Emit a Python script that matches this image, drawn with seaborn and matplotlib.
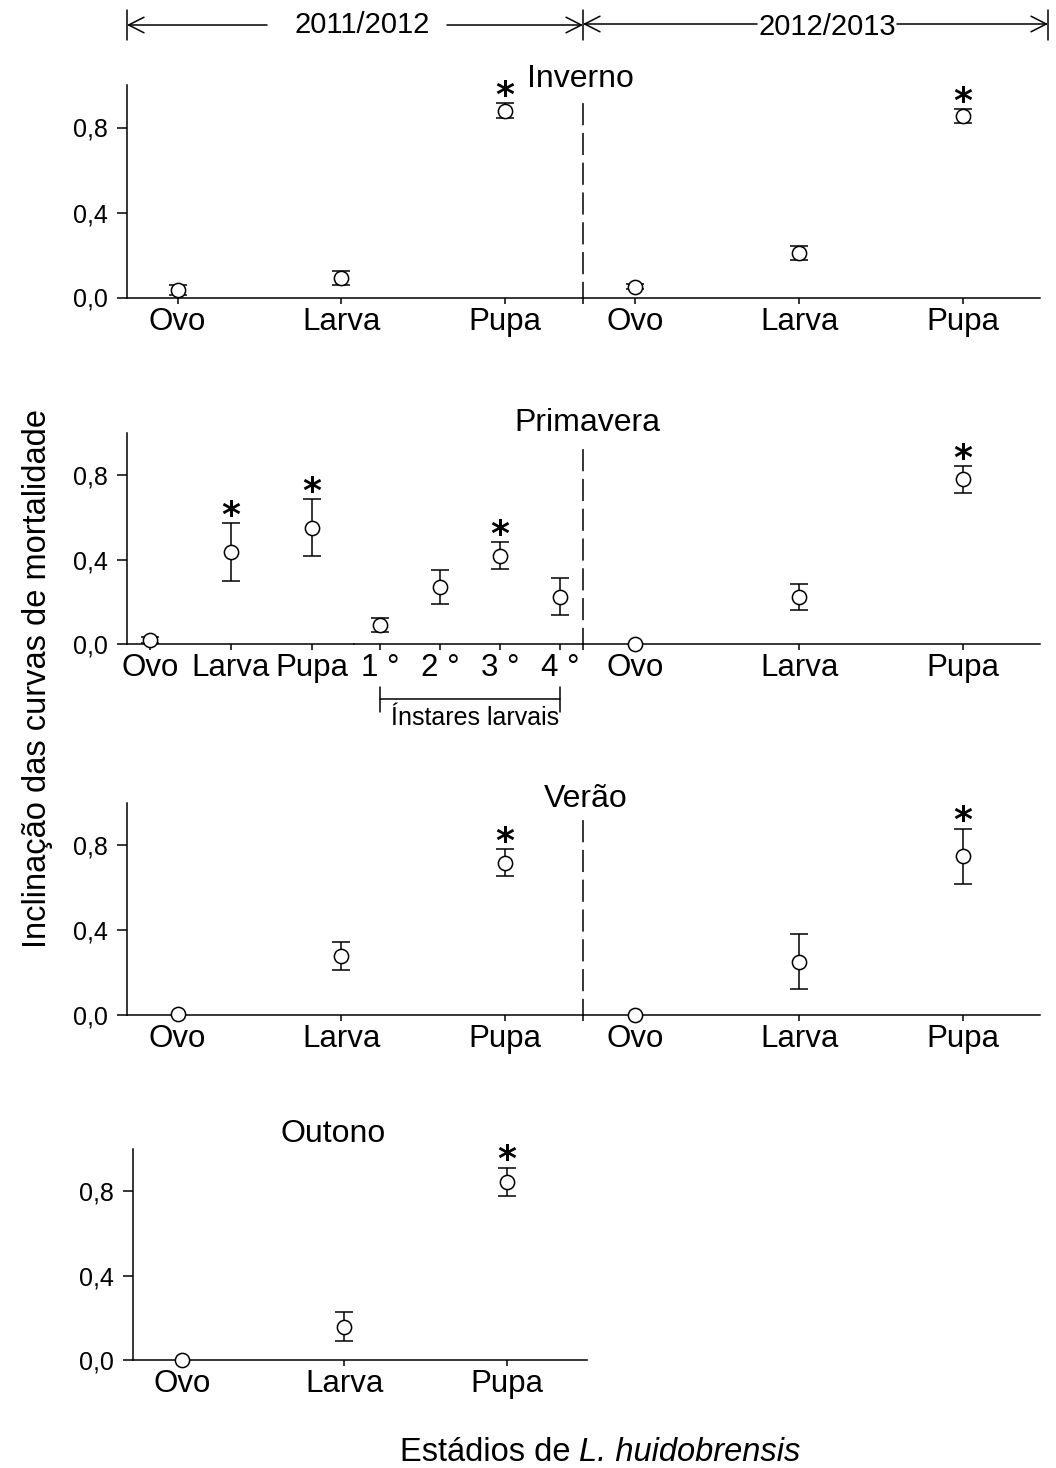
import numpy as np
import pandas as pd
import matplotlib
matplotlib.use("Agg")
import matplotlib.pyplot as plt
import matplotlib.transforms as mtransforms
from matplotlib.patches import FancyArrowPatch
from matplotlib.lines import Line2D
import seaborn as sns

# ---------------- data ----------------
stages = ["Ovo", "Larva", "Pupa"]
instars = ["1 °", "2 °", "3 °", "4 °"]
ytick_vals = [0.0, 0.4, 0.8]
ytick_labels = ["0,0", "0,4", "0,8"]
years = ["2011/2012", "2012/2013"]
seasons = ["Inverno", "Primavera", "Verão", "Outono"]
instar_caption = "Ínstares larvais"
ylabel = "Inclinação das curvas de mortalidade"
xlabel_plain = "Estádios de "
xlabel_italic = "L. huidobrensis"

inv_1112 = [0.035, 0.09, 0.88]
inv_1112_err = [0.022, 0.033, 0.036]
inv_1112_sig = [False, False, True]
inv_1213 = [0.05, 0.21, 0.855]
inv_1213_err = [0.012, 0.033, 0.032]
inv_1213_sig = [False, False, True]

pri_1112 = [0.02, 0.437, 0.55]
pri_1112_err = [0.013, 0.137, 0.135]
pri_1112_sig = [False, True, True]
pri_instar = [0.09, 0.27, 0.418, 0.224]
pri_instar_err = [0.031, 0.079, 0.064, 0.087]
pri_instar_sig = [False, False, True, False]
pri_1213 = [0.0, 0.222, 0.78]
pri_1213_err = [0.0, 0.063, 0.062]
pri_1213_sig = [False, False, True]

ver_1112 = [0.005, 0.278, 0.718]
ver_1112_err = [0.0, 0.065, 0.063]
ver_1112_sig = [False, False, True]
ver_1213 = [0.0, 0.251, 0.748]
ver_1213_err = [0.0, 0.13, 0.131]
ver_1213_sig = [False, False, True]

out_1112 = [0.0, 0.158, 0.844]
out_1112_err = [0.0, 0.068, 0.068]
out_1112_sig = [False, False, True]

# ---------------- style ----------------
sns.set_style("ticks")
plt.rcParams["font.family"] = ["Liberation Sans", "DejaVu Sans"]
for k in ["text.color", "axes.labelcolor", "xtick.color", "ytick.color", "axes.edgecolor"]:
    plt.rcParams[k] = "black"

W, H = 1056, 1468
LW = 1.1
CAT_FS = 22.5
fig = plt.figure(figsize=(W / 100, H / 100), dpi=100)
fig.patch.set_facecolor("white")


def fx(px):
    return px / W


def fy(py):
    return 1 - py / H


def make_ax(x0, x1, ytop, ybot):
    return fig.add_axes([fx(x0), fy(ybot), (x1 - x0) / W, (ybot - ytop) / H])


def panel(ax, cats, vals, errs, sig, xlim, yaxis=True):
    pos = np.arange(len(cats))
    vals = np.asarray(vals, dtype=float)
    errs = np.asarray(errs, dtype=float)
    m = errs > 0
    ax.errorbar(pos[m], vals[m], yerr=errs[m], fmt="none", ecolor="black",
                elinewidth=LW, capsize=6.8, capthick=LW, zorder=2, clip_on=False)
    df = pd.DataFrame({"pos": pos, "val": vals})
    sns.scatterplot(data=df, x="pos", y="val", ax=ax, marker="o", s=105,
                    color="white", edgecolor="black", linewidth=LW,
                    zorder=3, clip_on=False, legend=False)
    for p, v, e, s in zip(pos, vals, errs, sig):
        if s:
            ax.annotate("*", xy=(p, v + e), xytext=(0, -2), textcoords="offset points",
                        ha="center", va="baseline", fontsize=26, fontweight="bold",
                        family="DejaVu Sans", color="black", annotation_clip=False)
    ax.set_xlim(*xlim)
    ax.set_ylim(0, 1.0)
    ax.set_xticks(pos)
    ax.set_xticklabels(cats, fontsize=CAT_FS)
    ax.set_xlabel("")
    ax.set_ylabel("")
    ax.set_facecolor("none")
    for sp in ["top", "right"]:
        ax.spines[sp].set_visible(False)
    ax.spines["bottom"].set_linewidth(LW)
    ax.spines["left"].set_linewidth(LW)
    ax.tick_params(axis="x", length=4.5, width=LW, pad=2, direction="out", colors="black")
    if yaxis:
        ax.set_yticks(ytick_vals)
        ax.set_yticklabels(ytick_labels, fontsize=18)
        ax.tick_params(axis="y", length=7, width=LW, pad=7, direction="out", colors="black")
    else:
        ax.spines["left"].set_visible(False)
        ax.set_yticks([])
        ax.tick_params(axis="y", left=False, labelleft=False)


def dashed_divider(ax):
    ax.axvline(ax.get_xlim()[0], ymin=-0.03, ymax=0.93, color="black", lw=LW,
               linestyle=(0, (14.5, 5)), clip_on=False, zorder=1)


XL_LEFT = (-0.31, 2.48)
XL_RIGHT = (-0.32, 2.47)

rows = {"Inverno": (85, 297.5), "Primavera": (433, 644), "Verão": (803, 1015), "Outono": (1149, 1360)}

# ---- Inverno ----
yt, yb = rows["Inverno"]
a = make_ax(127, 583, yt, yb)
panel(a, stages, inv_1112, inv_1112_err, inv_1112_sig, XL_LEFT)
b = make_ax(583, 1040, yt, yb)
panel(b, stages, inv_1213, inv_1213_err, inv_1213_sig, XL_RIGHT, yaxis=False)
dashed_divider(b)

# ---- Primavera ----
yt, yb = rows["Primavera"]
a = make_ax(127, 354, yt, yb)
panel(a, stages, pri_1112, pri_1112_err, pri_1112_sig, (-0.284, 2.52))
c = make_ax(354, 583, yt, yb)
panel(c, instars, pri_instar, pri_instar_err, pri_instar_sig, (-0.433, 3.383), yaxis=False)
c.axvline(c.get_xlim()[0], ymin=0, ymax=0.91, color="black", lw=3.4,
          linestyle=(0, (0, 2.5)), dash_capstyle="round", clip_on=False)
tr = mtransforms.blended_transform_factory(c.transData, c.transAxes)
c.plot([0, len(instars) - 1], [-0.26, -0.26], color="black", lw=LW, transform=tr, clip_on=False)
for xx in [0, len(instars) - 1]:
    c.plot([xx, xx], [-0.205, -0.32], color="black", lw=LW, transform=tr, clip_on=False)
c.text(1.58, -0.295, instar_caption, transform=tr, ha="center", va="top", fontsize=18)
b = make_ax(583, 1040, yt, yb)
panel(b, stages, pri_1213, pri_1213_err, pri_1213_sig, XL_RIGHT, yaxis=False)
dashed_divider(b)

# ---- Verão ----
yt, yb = rows["Verão"]
a = make_ax(127, 583, yt, yb)
panel(a, stages, ver_1112, ver_1112_err, ver_1112_sig, XL_LEFT)
b = make_ax(583, 1040, yt, yb)
panel(b, stages, ver_1213, ver_1213_err, ver_1213_sig, XL_RIGHT, yaxis=False)
dashed_divider(b)

# ---- Outono ----
yt, yb = rows["Outono"]
a = make_ax(133, 587, yt, yb)
panel(a, stages, out_1112, out_1112_err, out_1112_sig, (-0.30, 2.494))

# ---- season titles ----
title_pos = {"Inverno": (580, 87), "Primavera": (587, 431), "Verão": (586, 807), "Outono": (333, 1142)}
for s in seasons:
    x, y = title_pos[s]
    fig.text(fx(x), fy(y), s, ha="center", va="baseline", fontsize=23)

# ---- axis labels ----
fig.text(fx(38), fy(678), ylabel, rotation=90, ha="center", va="center", fontsize=23.5)

renderer = fig.canvas.get_renderer()
t1 = fig.text(0, fy(1461), xlabel_plain, ha="left", va="baseline", fontsize=23.5)
t2 = fig.text(0, fy(1461), xlabel_italic, ha="left", va="baseline", fontsize=23.5, style="italic")
w1 = t1.get_window_extent(renderer).width
w2 = t2.get_window_extent(renderer).width
x_start = 600 - (w1 + w2) / 2
t1.set_x(fx(x_start))
t2.set_x(fx(x_start + w1))

# ---- header with year arrows ----
for xb in [127, 583, 1048]:
    fig.add_artist(Line2D([fx(xb), fx(xb)], [fy(10), fy(40)], color="black", lw=LW,
                          transform=fig.transFigure))
arrows = [((267, 25), (127, 25)), ((447, 25), (583, 25)),
          ((757, 24), (583, 24)), ((897, 24), (1048, 24))]
for (xa, ya), (xb, yb2) in arrows:
    fig.add_artist(FancyArrowPatch((fx(xa), fy(ya)), (fx(xb), fy(yb2)),
                                   arrowstyle="->,head_length=0.55,head_width=0.28",
                                   mutation_scale=20, lw=LW, color="black",
                                   shrinkA=0, shrinkB=0, transform=fig.transFigure))
fig.text(fx(362.5), fy(33), years[0], ha="center", va="baseline", fontsize=21)
fig.text(fx(827), fy(35), years[1], ha="center", va="baseline", fontsize=21)

fig.savefig("out.png", dpi=100, facecolor="white")
